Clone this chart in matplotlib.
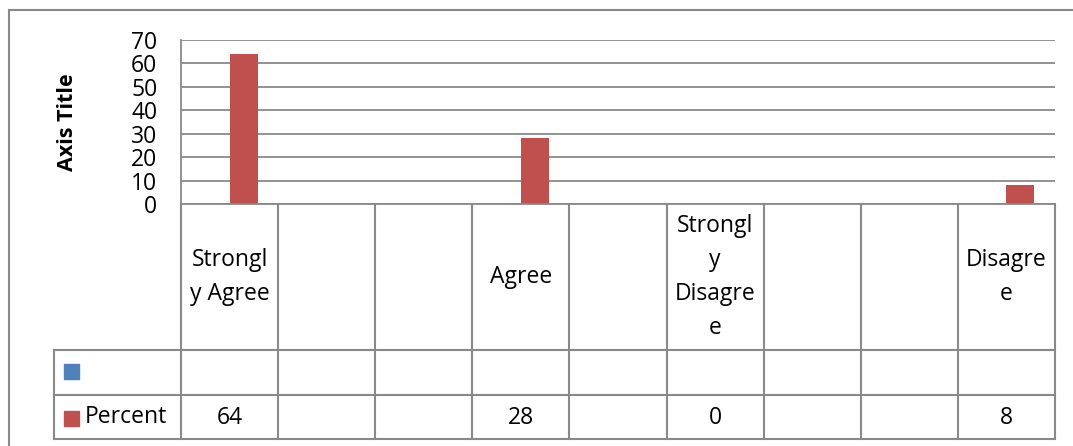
import numpy as np
import matplotlib.pyplot as plt
from matplotlib.lines import Line2D
from matplotlib.patches import Rectangle

plt.rcParams['font.family'] = ['Open Sans', 'DejaVu Sans']

# data
categories = ["Strongl\ny Agree", "", "", "Agree", "", "Strongl\ny\nDisagre\ne", "", "", "Disagre\ne"]
blank_series = [np.nan] * 9
percent = [64, np.nan, np.nan, 28, np.nan, 0, np.nan, np.nan, 8]
percent_labels = ["64", "", "", "28", "", "0", "", "", "8"]
yticks = [0, 10, 20, 30, 40, 50, 60, 70]

W, H = 1073, 446
grid_col = "#898989"
blue = "#4F81BD"
red = "#C0504D"
fs = 16.5

fig = plt.figure(figsize=(W / 100, H / 100), dpi=100)

# plot area in pixels
left, right, top, bottom = 181, 1055, 40, 204
ax = fig.add_axes([left / W, 1 - bottom / H, (right - left) / W, (bottom - top) / H])
x = np.arange(len(categories))
bw = 0.288
ax.bar(x - bw / 2, blank_series, bw, color=blue)
ax.bar(x + bw / 2, percent, bw, color=red)
ax.set_xlim(-0.5, len(categories) - 0.5)
ax.set_ylim(0, 70)
ax.set_yticks(yticks)
ax.set_xticks([])
ax.yaxis.grid(True, color=grid_col, lw=1.3)
ax.set_axisbelow(True)
for s in ["top", "right"]:
    ax.spines[s].set_visible(False)
for s in ["left", "bottom"]:
    ax.spines[s].set_color(grid_col)
    ax.spines[s].set_linewidth(1.3)
ax.tick_params(axis="y", length=0, pad=17, labelsize=16.5)
ax.set_ylabel("Axis Title", fontsize=15.5, fontweight="bold", labelpad=38)

# data table below the plot
tbot = 439
tab = fig.add_axes([left / W, 1 - tbot / H, (right - left) / W, (tbot - bottom) / H])
tab.set_xlim(-0.5, len(categories) - 0.5)
tab.set_ylim(tbot - bottom, 0)
tab.axis("off")
colw = (right - left) / len(categories)
legend_left = -0.5 - (left - 54) / colw
row1, row2, row3 = 146, 191, tbot - bottom

lk = dict(color=grid_col, lw=1.5, clip_on=False)
for k in range(len(categories) + 1):
    tab.add_line(Line2D([k - 0.5, k - 0.5], [0, row3], **lk))
tab.add_line(Line2D([legend_left, legend_left], [row1, row3], **lk))
for yy in [row1, row2, row3]:
    tab.add_line(Line2D([legend_left, len(categories) - 0.5], [yy, yy], **lk))

for i, lab in enumerate(categories):
    tab.text(i, row1 / 2, lab, ha="center", va="center", fontsize=fs,
             linespacing=1.55, multialignment="center")
for i, lab in enumerate(percent_labels):
    tab.text(i, (row2 + row3) / 2 + 1, lab, ha="center", va="center", fontsize=fs)

# legend keys in the table
kx = legend_left + 10 / colw
ks = 15
tab.add_patch(Rectangle((kx, (row1 + row2) / 2 - ks / 2 - 1), ks / colw, ks,
                        color=blue, clip_on=False))
tab.add_patch(Rectangle((kx, (row2 + row3) / 2 - ks / 2 + 1), ks / colw, ks,
                        color=red, clip_on=False))
tab.text(kx + 21 / colw, (row2 + row3) / 2, "Percent", ha="left", va="center", fontsize=fs)

# outer chart border
fig.add_artist(Line2D([9 / W, 9 / W], [0, 1 - 10 / H], transform=fig.transFigure,
                      color=grid_col, lw=1.5))
fig.add_artist(Line2D([9 / W, 1], [1 - 10 / H, 1 - 10 / H], transform=fig.transFigure,
                      color=grid_col, lw=1.5))

fig.savefig("out.png", dpi=100)
